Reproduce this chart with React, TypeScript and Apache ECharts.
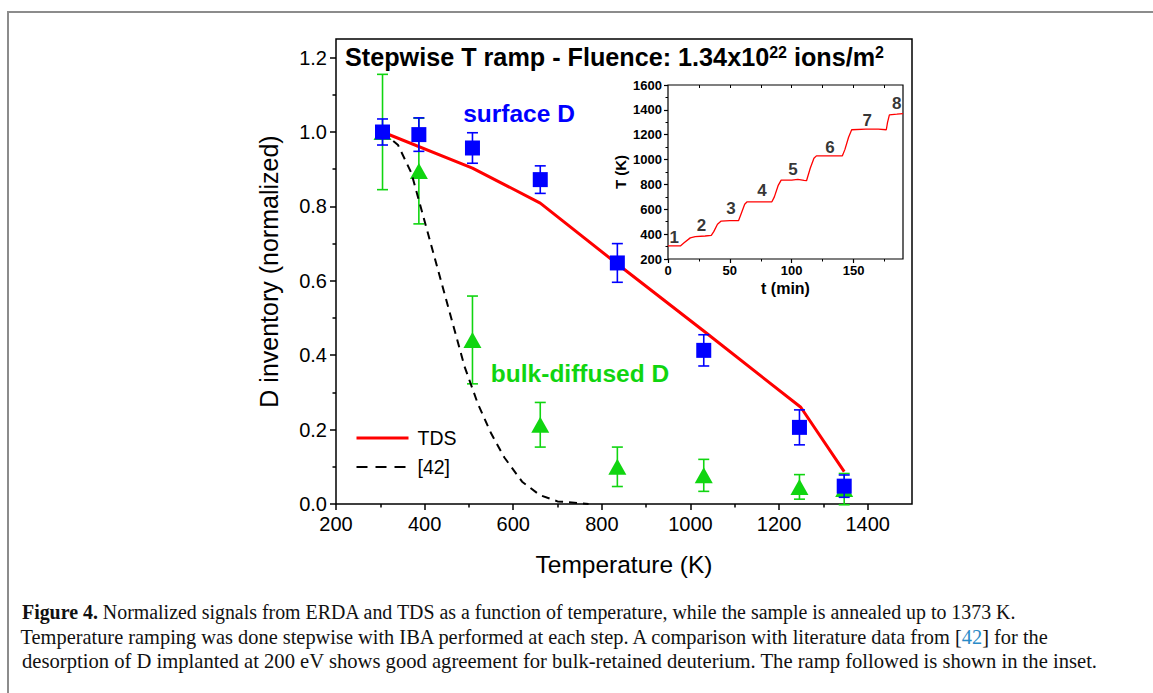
import React, { useEffect, useRef } from "react";
import * as echarts from "echarts";

// ---- main plot data ----
const surfT = [305, 387, 508, 661, 835, 1030, 1246, 1347];
const surfD = [1.0, 0.993, 0.957, 0.872, 0.648, 0.413, 0.206, 0.048];
const surfErr = [0.035, 0.045, 0.041, 0.037, 0.052, 0.042, 0.047, 0.03];

const bulkT = [305, 387, 508, 661, 835, 1030, 1246, 1347];
const bulkD = [1.0, 0.895, 0.441, 0.213, 0.1, 0.077, 0.046, 0.04];
const bulkErr = [0.155, 0.142, 0.118, 0.06, 0.053, 0.043, 0.033, 0.042];

const tdsT = [305, 508, 661, 835, 1030, 1249, 1347];
const tdsD = [1.0, 0.903, 0.809, 0.645, 0.465, 0.26, 0.087];

const litT = [305, 340, 370, 400, 430, 460, 490, 520, 550, 580, 620, 660, 700, 770];
const litD = [1.0, 0.965, 0.89, 0.76, 0.63, 0.5, 0.37, 0.27, 0.19, 0.125, 0.06, 0.024, 0.007, 0.0];

// ---- inset data ----
const rampTime = [0, 10, 13, 18, 22, 30, 35, 37, 40, 43, 50, 57, 59, 62, 64, 75, 84, 86, 89, 91.5, 100, 105, 110, 112, 115, 118, 120, 130, 141, 143, 146, 148.5, 160, 170, 176.5, 177.5, 179, 185, 190];
const rampK = [305, 305, 330, 370, 380, 385, 390, 420, 480, 505, 508, 508, 560, 640, 660, 660, 660, 700, 790, 835, 835, 840, 832, 830, 930, 1010, 1030, 1030, 1030, 1080, 1180, 1240, 1245, 1245, 1240, 1300, 1360, 1365, 1370];
const stepNames = ["1", "2", "3", "4", "5", "6", "7", "8"];
const stepT = [5, 27, 51, 76, 101, 131, 161, 185];
const stepK = [370, 470, 610, 750, 920, 1095, 1315, 1450];

// ---- ticks ----
const xMajor = [200, 400, 600, 800, 1000, 1200, 1400];
const xMinor = [300, 500, 700, 900, 1100, 1300];
const yMajor = [0, 0.2, 0.4, 0.6, 0.8, 1.0, 1.2];
const yMinor = [0.1, 0.3, 0.5, 0.7, 0.9, 1.1];
const inXMajor = [0, 50, 100, 150];
const inXMinor = [25, 75, 125, 175];
const inXTop = [25, 50, 75, 100, 125, 150, 175];
const inYMajor = [200, 400, 600, 800, 1000, 1200, 1400, 1600];
const inYMinor = [300, 500, 700, 900, 1100, 1300, 1500];

// ---- caption ----
const cap1Bold = "Figure 4.";
const cap1 = " Normalized signals from ERDA and TDS as a function of temperature, while the sample is annealed up to 1373 K.";
const cap2a = "Temperature ramping was done stepwise with IBA performed at each step. A comparison with literature data from [";
const cap2ref = "42";
const cap2b = "] for the";
const cap3 = "desorption of D implanted at 200 eV shows good agreement for bulk-retained deuterium. The ramp followed is shown in the inset.";

const SANS = '"Liberation Sans", Arial, Helvetica, sans-serif';
const SERIF = '"Liberation Serif", "Times New Roman", serif';
const BLUE = "#0000ff";
const GREEN = "#10d510";
const RED = "#ff0000";
const CAP = 20;

function errSeries(T: number[], V: number[], E: number[], color: string, z: number) {
  return {
    type: "custom",
    xAxisIndex: 0,
    yAxisIndex: 0,
    z,
    clip: false,
    data: T.map((t, i) => [t, V[i] - E[i], V[i] + E[i]]),
    encode: { x: 0, y: [1, 2] },
    renderItem: (params: any, api: any) => {
      const x = api.value(0);
      const lo = api.coord([x, api.value(1)]);
      const hi = api.coord([x, api.value(2)]);
      const w = 5.5;
      const st = { stroke: color, lineWidth: 1.6 };
      return {
        type: "group",
        children: [
          { type: "line", shape: { x1: lo[0], y1: lo[1], x2: hi[0], y2: hi[1] }, style: st },
          { type: "line", shape: { x1: lo[0] - w, y1: lo[1], x2: lo[0] + w, y2: lo[1] }, style: st },
          { type: "line", shape: { x1: hi[0] - w, y1: hi[1], x2: hi[0] + w, y2: hi[1] }, style: st },
        ],
      };
    },
  };
}

export default function App() {
  const ref = useRef<HTMLDivElement>(null);
  useEffect(() => {
    document.body.style.margin = "0";
    const chart = echarts.init(ref.current!, null, { renderer: "svg" });
    const tickLine = { color: "#000", width: 1.5 };
    const plain = (v: number) => String(v);

    const ctx = document.createElement("canvas").getContext("2d")!;
    ctx.font = `${CAP}px "Liberation Serif"`;
    const w2a = ctx.measureText(cap2a).width;

    const capStyle = { fontSize: CAP, fontFamily: SERIF, fill: "#111", verticalAlign: "middle" };

    const option: any = {
      animation: false,
      backgroundColor: "#fff",
      textStyle: { fontFamily: SANS },
      grid: [
        { left: 336, top: 39, width: 576, height: 465, show: true, borderColor: "#000", borderWidth: 1.5, backgroundColor: "transparent", containLabel: false },
        { left: 668, top: 85, width: 235, height: 174, show: true, borderColor: "#000", borderWidth: 1.2, backgroundColor: "#fff", containLabel: false },
      ],
      xAxis: [
        {
          gridIndex: 0, type: "value", min: 200, max: 1500, position: "bottom",
          axisLine: { show: false },
          axisTick: { show: true, length: 6, inside: false, lineStyle: tickLine, customValues: xMajor },
          axisLabel: { show: true, customValues: xMajor, fontSize: 20, color: "#000", margin: 10, fontFamily: SANS, formatter: plain },
          splitLine: { show: false },
          name: "Temperature (K)", nameLocation: "middle", nameGap: 48,
          nameTextStyle: { fontSize: 24.5, color: "#000", fontFamily: SANS },
        },
        {
          gridIndex: 0, type: "value", min: 200, max: 1500, position: "bottom",
          axisLine: { show: false },
          axisTick: { show: true, length: 3.5, lineStyle: tickLine, customValues: xMinor },
          axisLabel: { show: false }, splitLine: { show: false },
        },
        {
          gridIndex: 1, type: "value", min: 0, max: 190, position: "bottom",
          axisLine: { show: false },
          axisTick: { show: true, length: 4, lineStyle: { color: "#000", width: 1.2 }, customValues: inXMajor },
          axisLabel: { show: true, customValues: inXMajor, fontSize: 13, fontWeight: "bold", color: "#000", margin: 5, fontFamily: SANS, formatter: plain },
          splitLine: { show: false },
          name: "t (min)", nameLocation: "middle", nameGap: 21,
          nameTextStyle: { fontSize: 16, fontWeight: "bold", color: "#000", fontFamily: SANS },
        },
        {
          gridIndex: 1, type: "value", min: 0, max: 190, position: "bottom",
          axisLine: { show: false },
          axisTick: { show: true, length: 2.5, lineStyle: { color: "#000", width: 1 }, customValues: inXMinor },
          axisLabel: { show: false }, splitLine: { show: false },
        },
        {
          gridIndex: 1, type: "value", min: 0, max: 190, position: "top",
          axisLine: { show: false },
          axisTick: { show: true, inside: true, length: 3, lineStyle: { color: "#000", width: 1 }, customValues: inXTop },
          axisLabel: { show: false }, splitLine: { show: false },
        },
      ],
      yAxis: [
        {
          gridIndex: 0, type: "value", min: 0, max: 1.25, position: "left",
          axisLine: { show: false },
          axisTick: { show: true, length: 6, lineStyle: tickLine, customValues: yMajor },
          axisLabel: { show: true, customValues: yMajor, fontSize: 20, color: "#000", margin: 9, fontFamily: SANS, formatter: (v: number) => v.toFixed(1) },
          splitLine: { show: false },
          name: "D inventory (normalized)", nameLocation: "middle", nameGap: 55, nameRotate: 90,
          nameTextStyle: { fontSize: 25, color: "#000", fontFamily: SANS },
        },
        {
          gridIndex: 0, type: "value", min: 0, max: 1.25, position: "left",
          axisLine: { show: false },
          axisTick: { show: true, length: 3.5, lineStyle: tickLine, customValues: yMinor },
          axisLabel: { show: false }, splitLine: { show: false },
        },
        {
          gridIndex: 1, type: "value", min: 200, max: 1600, position: "left",
          axisLine: { show: false },
          axisTick: { show: true, length: 4, lineStyle: { color: "#000", width: 1.2 }, customValues: inYMajor },
          axisLabel: { show: true, customValues: inYMajor, fontSize: 13, fontWeight: "bold", color: "#000", margin: 6, fontFamily: SANS, formatter: plain },
          splitLine: { show: false },
          name: "T (K)", nameLocation: "middle", nameGap: 40, nameRotate: 90,
          nameTextStyle: { fontSize: 15, fontWeight: "bold", color: "#000", fontFamily: SANS },
        },
        {
          gridIndex: 1, type: "value", min: 200, max: 1600, position: "left",
          axisLine: { show: false },
          axisTick: { show: true, length: 2.5, lineStyle: { color: "#000", width: 1 }, customValues: inYMinor },
          axisLabel: { show: false }, splitLine: { show: false },
        },
        {
          gridIndex: 1, type: "value", min: 200, max: 1600, position: "right",
          axisLine: { show: false },
          axisTick: { show: true, inside: true, length: 3, lineStyle: { color: "#000", width: 1 }, customValues: inYMajor },
          axisLabel: { show: false }, splitLine: { show: false },
        },
      ],
      legend: {
        data: [
          { name: "TDS", lineStyle: { color: RED, width: 3, type: "solid" } },
          { name: "[42]", lineStyle: { color: "#000", width: 2, type: [11, 8] } },
        ],
        orient: "vertical",
        left: 350,
        top: 423,
        itemWidth: 52,
        itemHeight: 14,
        itemGap: 9,
        itemStyle: { opacity: 0 },
        textStyle: { fontSize: 19.5, color: "#000", fontFamily: SANS, padding: [0, 0, 0, 4] },
      },
      series: [
        errSeries(bulkT, bulkD, bulkErr, GREEN, 2),
        {
          type: "scatter", name: "bulk-diffused D", xAxisIndex: 0, yAxisIndex: 0, z: 3,
          symbol: "triangle", symbolSize: [18, 16],
          itemStyle: { color: GREEN, opacity: 1 },
          data: bulkT.map((t, i) => [t, bulkD[i]]),
        },
        {
          type: "line", name: "TDS", xAxisIndex: 0, yAxisIndex: 0, z: 4,
          symbol: "none", lineStyle: { color: RED, width: 3 }, itemStyle: { color: RED },
          data: tdsT.map((t, i) => [t, tdsD[i]]),
        },
        {
          type: "line", name: "[42]", xAxisIndex: 0, yAxisIndex: 0, z: 4,
          symbol: "none", lineStyle: { color: "#000", width: 2, type: [8, 6] }, itemStyle: { color: "#000" },
          data: litT.map((t, i) => [t, litD[i]]),
        },
        errSeries(surfT, surfD, surfErr, BLUE, 5),
        {
          type: "scatter", name: "surface D", xAxisIndex: 0, yAxisIndex: 0, z: 6,
          symbol: "rect", symbolSize: 15,
          itemStyle: { color: BLUE, opacity: 1 },
          data: surfT.map((t, i) => [t, surfD[i]]),
        },
        {
          type: "line", name: "ramp", xAxisIndex: 2, yAxisIndex: 2, z: 4,
          symbol: "none", lineStyle: { color: RED, width: 1.3 },
          data: rampTime.map((t, i) => [t, rampK[i]]),
        },
        {
          type: "scatter", name: "steps", xAxisIndex: 2, yAxisIndex: 2, z: 5,
          symbolSize: 1, itemStyle: { color: "transparent" },
          label: {
            show: true, position: "inside", color: "#000", fontSize: 17, fontWeight: "bold", fontFamily: SANS,
            formatter: (p: any) => stepNames[p.dataIndex],
          },
          data: stepT.map((t, i) => [t, stepK[i]]),
        },
      ],
      graphic: [
        {
          type: "rect", silent: true, z: -1,
          shape: { x: 8, y: 12, width: 1300, height: 800 },
          style: { fill: "none", stroke: "#8c8c8c", lineWidth: 2 },
        },
        {
          type: "text", x: 345, y: 57, z: 10,
          style: {
            text: "{n|Stepwise T ramp - Fluence: 1.34x10}{s|22}{n| ions/m}{s|2}",
            verticalAlign: "middle",
            rich: {
              n: { fontSize: 25.2, fontWeight: "bold", fontFamily: SANS, fill: "#000", verticalAlign: "bottom" },
              s: { fontSize: 16, fontWeight: "bold", fontFamily: SANS, fill: "#000", verticalAlign: "top" },
            },
          },
        },
        {
          type: "text", x: 519, y: 113, z: 10,
          style: { text: "surface D", fill: BLUE, fontSize: 24.5, fontWeight: "bold", fontFamily: SANS, align: "center", verticalAlign: "middle" },
        },
        {
          type: "text", x: 580, y: 373, z: 10,
          style: { text: "bulk-diffused D", fill: GREEN, fontSize: 24.5, fontWeight: "bold", fontFamily: SANS, align: "center", verticalAlign: "middle" },
        },
        {
          type: "text", x: 22, y: 612, z: 10, scaleX: 0.995,
          style: {
            text: `{b|${cap1Bold}}{t|${cap1}}`,
            verticalAlign: "middle",
            rich: {
              b: { fontWeight: "bold", fontSize: CAP, fontFamily: SERIF, fill: "#111" },
              t: { fontSize: CAP, fontFamily: SERIF, fill: "#111" },
            },
          },
        },
        {
          type: "group", x: 17, y: 637, scaleX: 1.019, z: 10,
          children: [
            { type: "text", x: w2a, y: 0, style: { ...capStyle, text: cap2a, align: "right" } },
            {
              type: "text", x: w2a, y: 0,
              style: {
                text: `{l|${cap2ref}}{t|${cap2b}}`,
                align: "left", verticalAlign: "middle",
                rich: {
                  l: { fontSize: CAP, fontFamily: SERIF, fill: "#2a8bc8" },
                  t: { fontSize: CAP, fontFamily: SERIF, fill: "#111" },
                },
              },
            },
          ],
        },
        {
          type: "group", x: 22, y: 661, scaleX: 1.031, z: 10,
          children: [{ type: "text", x: 0, y: 0, style: { ...capStyle, text: cap3, align: "left" } }],
        },
      ],
    };
    chart.setOption(option);
    return () => chart.dispose();
  }, []);
  return <div ref={ref} style={{ width: 1153, height: 693 }} />;
}
